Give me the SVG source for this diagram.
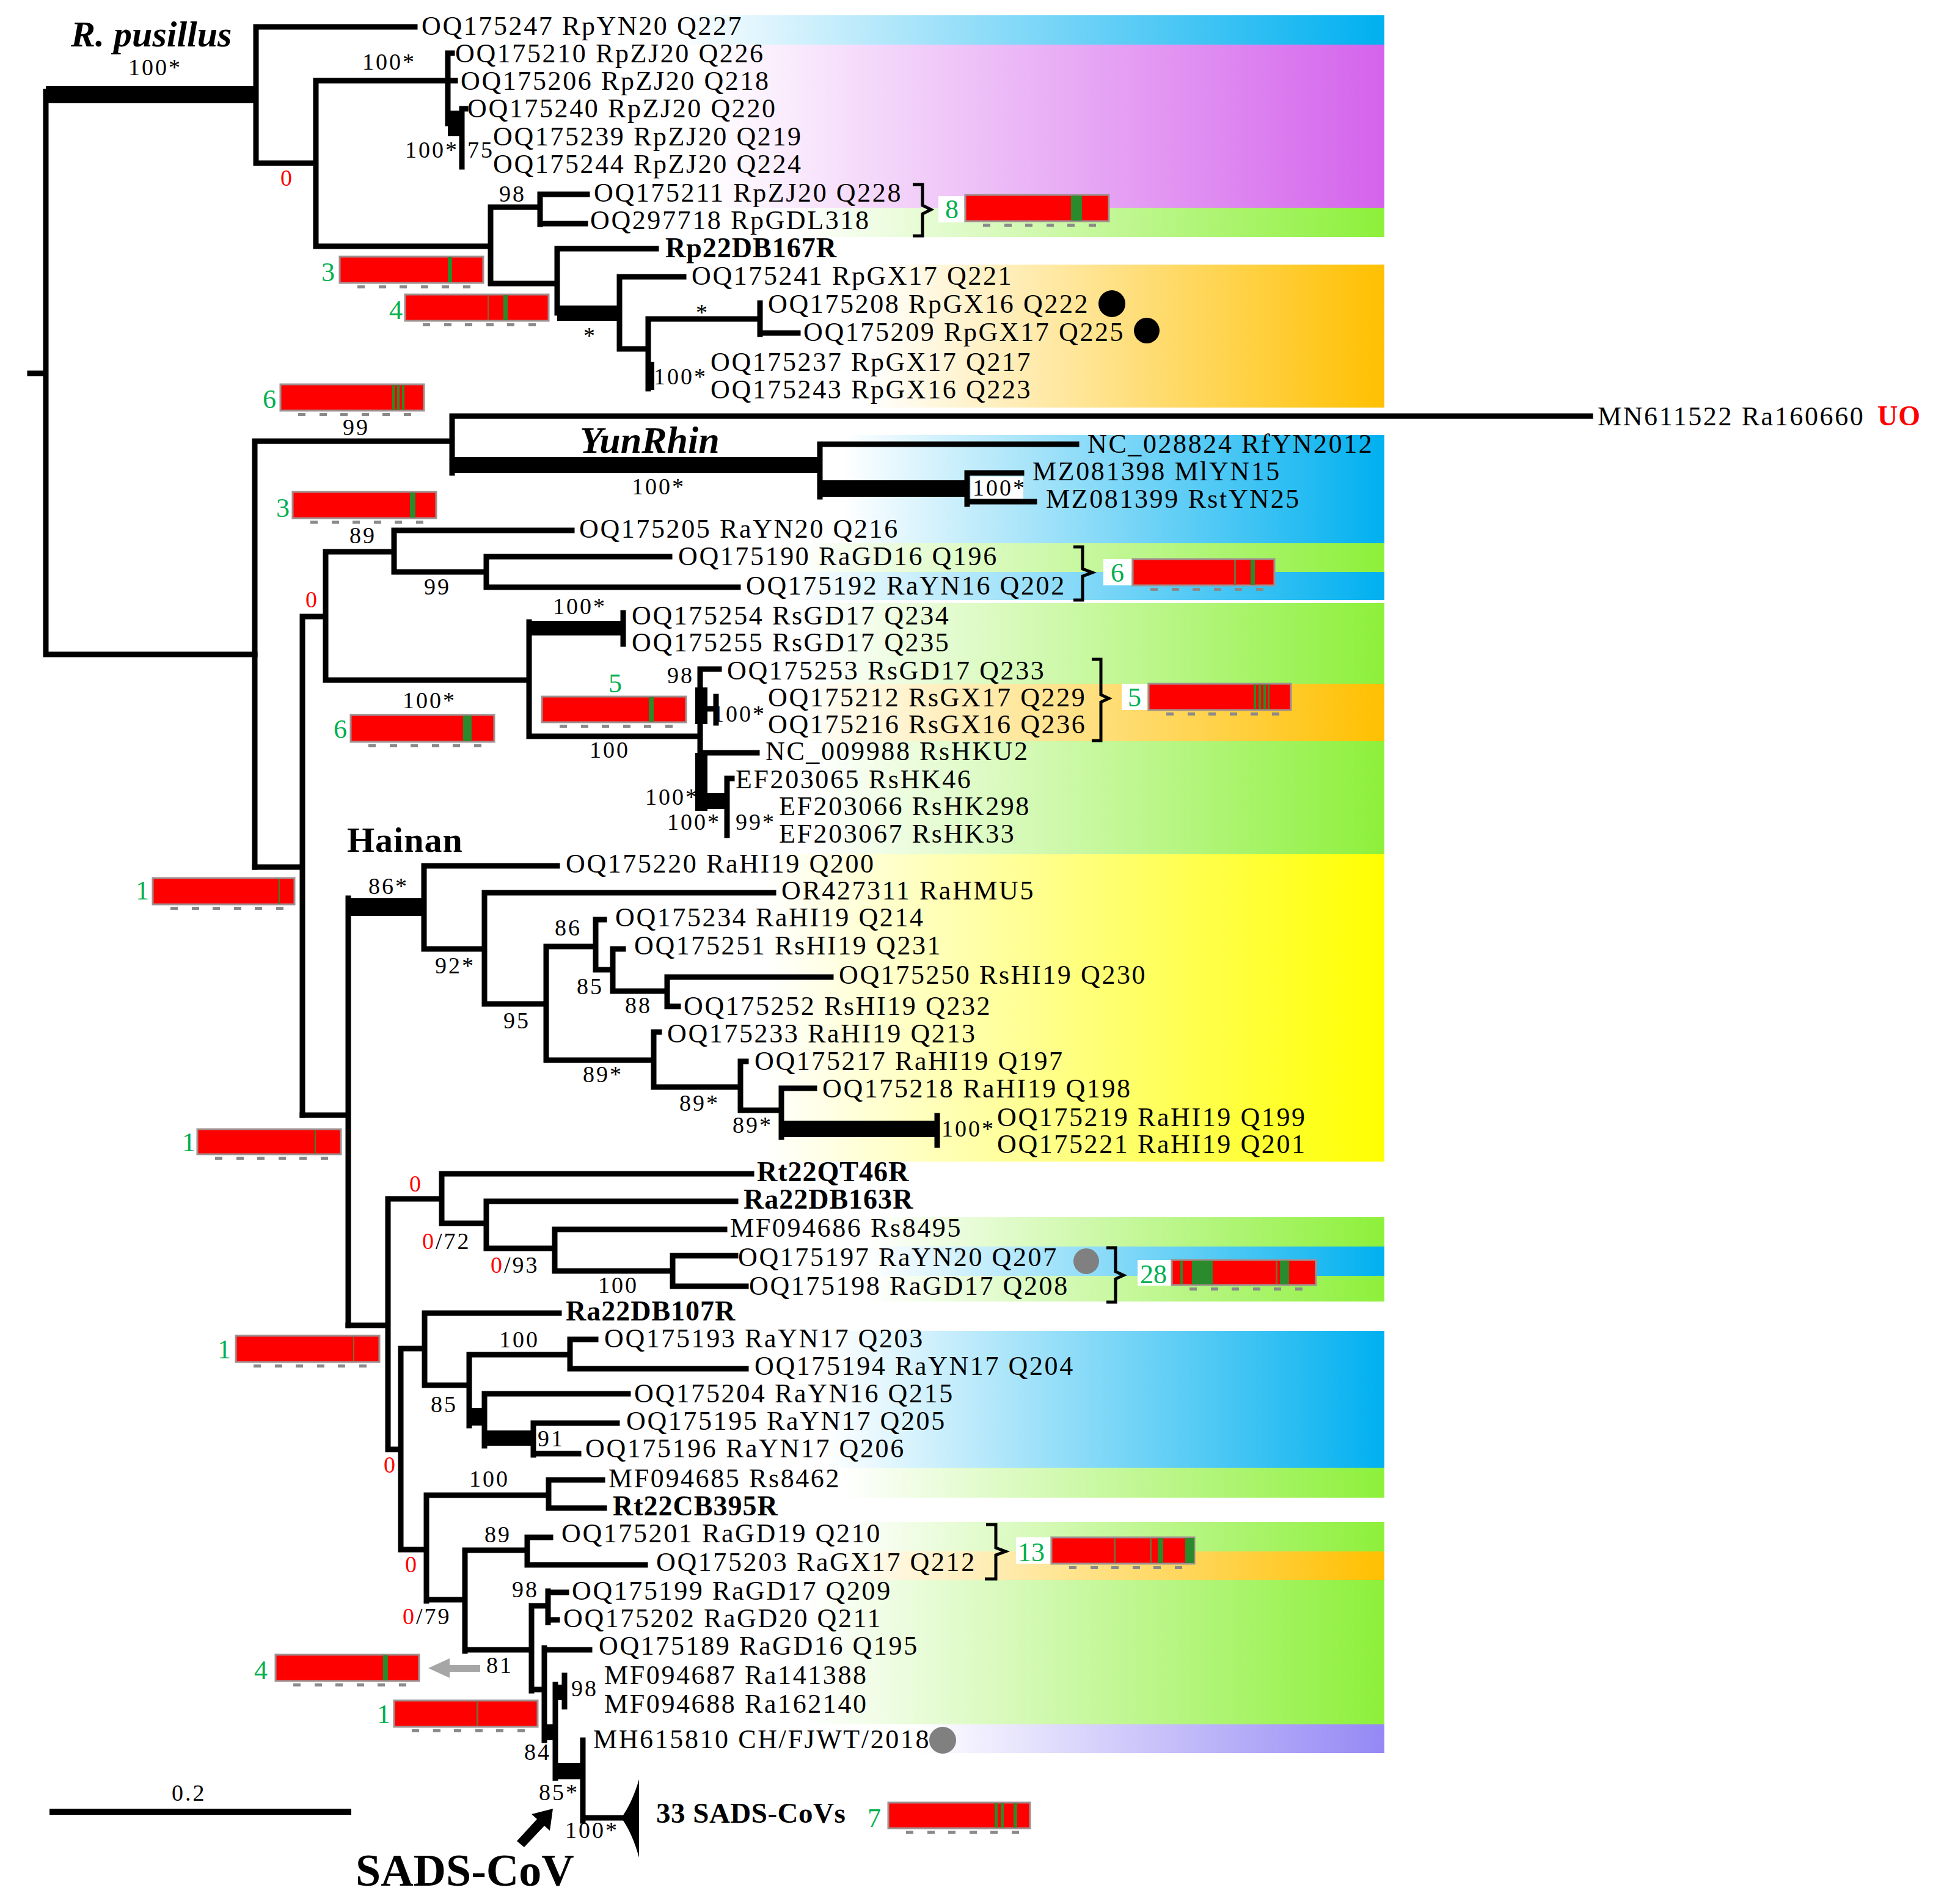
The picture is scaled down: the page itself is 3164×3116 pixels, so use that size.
<svg xmlns="http://www.w3.org/2000/svg" width="3164" height="3116" viewBox="0 0 3164 3116">
<defs>
<style>
text{font-family:"Liberation Serif","Times New Roman",serif;fill:#000}
.t{font-size:44px;letter-spacing:2.6px}
.b{font-size:46px;font-weight:bold;letter-spacing:1px}
.s{font-size:38px;letter-spacing:3px}
.r{fill:#f00}
.g{font-size:44px;fill:#00B050}
.ln{stroke:#000;stroke-width:9;fill:none;stroke-linecap:square}
.bar{fill:#f00;stroke:#a09090;stroke-width:3}
.gs{fill:#2B8A2B}
.sep{fill:#7a6a3a}
.br{fill:none;stroke:#000;stroke-width:5}
.tk{fill:#8a8a8a}
.wb{fill:#fff}
</style>
<linearGradient id="gB"><stop offset="0" stop-color="#fff"/><stop offset="1" stop-color="#00B0F0"/></linearGradient>
<linearGradient id="gM"><stop offset="0" stop-color="#fff"/><stop offset="1" stop-color="#D463EC"/></linearGradient>
<linearGradient id="gG"><stop offset="0" stop-color="#fff"/><stop offset="1" stop-color="#8DF03A"/></linearGradient>
<linearGradient id="gO"><stop offset="0" stop-color="#fff"/><stop offset="1" stop-color="#FFC000"/></linearGradient>
<linearGradient id="gY"><stop offset="0" stop-color="#fff"/><stop offset="1" stop-color="#FFFF00"/></linearGradient>
<linearGradient id="gP"><stop offset="0" stop-color="#fff"/><stop offset="1" stop-color="#9588F5"/></linearGradient>
<g id="tk"><rect class="tk" x="29" y="47" width="12" height="5"/><rect class="tk" x="64" y="47" width="12" height="5"/><rect class="tk" x="98" y="47" width="12" height="5"/><rect class="tk" x="133" y="47" width="12" height="5"/><rect class="tk" x="167" y="47" width="12" height="5"/><rect class="tk" x="202" y="47" width="12" height="5"/></g>
</defs>
<rect width="3164" height="3116" fill="#fff"/>
<g id="bands">
<rect x="1100" y="25" width="1166" height="48" fill="url(#gB)"/>
<rect x="1150" y="73" width="1116" height="267" fill="url(#gM)"/>
<rect x="1300" y="340" width="966" height="48" fill="url(#gG)"/>
<rect x="1420" y="433" width="846" height="234" fill="url(#gO)"/>
<rect x="1380" y="712" width="886" height="177" fill="url(#gB)"/>
<rect x="1300" y="889" width="966" height="47" fill="url(#gG)"/>
<rect x="1300" y="936" width="966" height="46" fill="url(#gB)"/>
<rect x="1330" y="987" width="936" height="132" fill="url(#gG)"/>
<rect x="1300" y="1119" width="966" height="94" fill="url(#gO)"/>
<rect x="1330" y="1213" width="936" height="185" fill="url(#gG)"/>
<rect x="1250" y="1398" width="1016" height="503" fill="url(#gY)"/>
<rect x="1420" y="1992" width="846" height="48" fill="url(#gG)"/>
<rect x="1420" y="2040" width="846" height="48" fill="url(#gB)"/>
<rect x="1420" y="2088" width="846" height="42" fill="url(#gG)"/>
<rect x="1350" y="2178" width="916" height="224" fill="url(#gB)"/>
<rect x="1380" y="2402" width="886" height="49" fill="url(#gG)"/>
<rect x="1380" y="2491" width="886" height="48" fill="url(#gG)"/>
<rect x="1350" y="2539" width="916" height="47" fill="url(#gO)"/>
<rect x="1320" y="2586" width="946" height="236" fill="url(#gG)"/>
<rect x="1500" y="2822" width="766" height="47" fill="url(#gP)"/>
</g>
<g id="connectors">
<path class="ln" d="M49 611H75M75 150V1071M75 1071H417M419 44V267M419 44H679M419 267H517M517 132V403M517 132H745M733 87V202M733 87H740M756 178V273M756 178H762M517 403H803M803 339V464M803 339H884M884 318V367M884 318H961M884 366H958M803 464H912M912 407V512M912 407H1074M1014 453V571M1014 453H1119M1014 571H1061M1061 522V636M1061 522H1244M1244 496V547M1244 545H1306"/>
<rect x="75" y="141" width="344" height="28"/>
<rect x="733" y="181" width="25" height="42"/>
<rect x="912" y="500" width="105" height="25"/>
<rect x="1057" y="592" width="14" height="46"/>
<path class="ln" d="M417 722V1419M417 722H740M740 681V774M740 681H2603M1342 727V813M1342 727H1762M1583 774V825M1583 774H1672M1583 821H1693"/>
<rect x="740" y="748" width="602" height="26"/>
<rect x="1342" y="786" width="241" height="27"/>
<path class="ln" d="M417 1419H495M495 1009V1825M495 1009H533M533 903V1113M533 903H645M645 868V936M645 868H936M645 936H796M796 911V961M796 911H1096M796 961H1208M533 1113H866M866 1018V1205M1020 1003V1054M866 1205H1146M1146 1095V1311M1146 1095H1177M1146 1160H1172M1172 1140V1183M1150 1232H1239M1190 1274V1367M1190 1274H1198"/>
<rect x="866" y="1016" width="154" height="24"/>
<rect x="1138" y="1125" width="20" height="60"/>
<rect x="1138" y="1232" width="20" height="95"/>
<rect x="1150" y="1298" width="42" height="26"/>
<path class="ln" d="M495 1825H570M570 1470V2169M694 1417V1553M694 1417H912M694 1553H793M793 1461V1643M793 1461H1266M793 1643H894M894 1549V1735M894 1549H975M975 1505V1587M975 1505H989M975 1587H1003M1003 1553V1622M1003 1553H1020M1003 1622H1092M1092 1599V1647M1092 1599H1360M1092 1647H1110M894 1735H1070M1070 1689V1779M1070 1689H1079M1070 1779H1212M1212 1737V1817M1212 1737H1221M1212 1817H1279M1279 1781V1861M1279 1781H1333M1534 1826V1874"/>
<rect x="568" y="1470" width="126" height="29"/>
<rect x="1279" y="1834" width="255" height="27"/>
<path class="ln" d="M570 2169H635M635 1962V2372M635 1962H723M723 1921V2002M723 1921H1230M723 2002H796M796 1966V2043M796 1966H1204M796 2043H908M908 2012V2080M908 2012H1186M908 2080H1101M1101 2055V2105M1101 2055H1204M1101 2105H1221M635 2372H656M656 2207V2536M656 2207H695M695 2149V2267M695 2149H915M695 2267H768M768 2217V2333M768 2217H933M933 2192V2240M933 2192H975M933 2240H1221M793 2281V2366M793 2281H1028M873 2329V2381M873 2329H1010M873 2379H947M656 2536H698M698 2447V2620M698 2447H898M898 2422V2468M898 2422H986M898 2468H989M698 2618H761M761 2537V2702M761 2537H863M863 2516V2561M863 2516H901M863 2561H1056M761 2700H870M870 2628V2767M870 2628H897M897 2604V2655M897 2606H927M897 2651H912M870 2765H891M891 2697V2848M891 2700H965M909 2757V2910M924 2742V2793M954 2848V2980M954 2975H1017"/>
<rect x="765" y="2304" width="28" height="29"/>
<rect x="793" y="2341" width="80" height="25"/>
<rect x="888" y="2822" width="24" height="26"/>
<rect x="905" y="2757" width="18" height="25"/>
<rect x="908" y="2885" width="49" height="27"/>
<path d="M1017 2975Q1035 2950 1046 2912V3040Q1035 3000 1017 2975Z"/>
<path class="br" d="M1494 302H1510V336L1524 343L1510 350V386H1494"/>
<path class="br" d="M1757 895H1772V931L1788 937L1772 943V982H1757"/>
<path class="br" d="M1787 1079H1802V1137L1815 1143L1802 1149V1212H1787"/>
<path class="br" d="M1811 2042H1826V2081L1839 2087L1826 2093V2131H1811"/>
<path class="br" d="M1614 2495H1630V2533L1646 2539L1630 2545V2584H1612"/>
<polygon points="701,2730 736,2714 736,2725 786,2725 786,2736 736,2736 736,2746" fill="#A6A6A6"/>
<polygon points="846,3013 879,2977 870,2969 905,2960 900,2996 891,2988 858,3023"/>
</g>
<g id="tips">
<g id="tip1"><text class="t" x="690" y="57">OQ175247 RpYN20 Q227</text></g>
<g id="tip2"><text class="t" x="745" y="102">OQ175210 RpZJ20 Q226</text></g>
<g id="tip3"><text class="t" x="754" y="147">OQ175206 RpZJ20 Q218</text></g>
<g id="tip4"><text class="t" x="765" y="192">OQ175240 RpZJ20 Q220</text></g>
<g id="tip5"><text class="t" x="807" y="238">OQ175239 RpZJ20 Q219</text></g>
<g id="tip6"><text class="t" x="807" y="283">OQ175244 RpZJ20 Q224</text></g>
<g id="tip7"><text class="t" x="972" y="330">OQ175211 RpZJ20 Q228</text></g>
<g id="tip8"><text class="t" x="966" y="375">OQ297718 RpGDL318</text></g>
<g id="tip9"><text class="b" x="1089" y="421">Rp22DB167R</text></g>
<g id="tip10"><text class="t" x="1132" y="466">OQ175241 RpGX17 Q221</text></g>
<g id="tip11"><text class="t" x="1257" y="512">OQ175208 RpGX16 Q222</text><circle cx="1820" cy="497" r="22"/></g>
<g id="tip12"><text class="t" x="1315" y="558">OQ175209 RpGX17 Q225</text><circle cx="1877" cy="541" r="21"/></g>
<g id="tip13"><text class="t" x="1163" y="607">OQ175237 RpGX17 Q217</text></g>
<g id="tip14"><text class="t" x="1163" y="652">OQ175243 RpGX16 Q223</text></g>
<g id="tip15"><text class="t" x="2615" y="696">MN611522 Ra160660</text><text class="b r" x="3073" y="696">UO</text></g>
<g id="tip16"><text class="t" x="1780" y="741">NC_028824 RfYN2012</text></g>
<g id="tip17"><text class="t" x="1690" y="786">MZ081398 MlYN15</text></g>
<g id="tip18"><text class="t" x="1712" y="831">MZ081399 RstYN25</text></g>
<g id="tip19"><text class="t" x="948" y="880">OQ175205 RaYN20 Q216</text></g>
<g id="tip20"><text class="t" x="1110" y="925">OQ175190 RaGD16 Q196</text></g>
<g id="tip21"><text class="t" x="1221" y="973">OQ175192 RaYN16 Q202</text></g>
<g id="tip22"><text class="t" x="1034" y="1022">OQ175254 RsGD17 Q234</text></g>
<g id="tip23"><text class="t" x="1034" y="1066">OQ175255 RsGD17 Q235</text></g>
<g id="tip24"><text class="t" x="1190" y="1112">OQ175253 RsGD17 Q233</text></g>
<g id="tip25"><text class="t" x="1257" y="1156">OQ175212 RsGX17 Q229</text></g>
<g id="tip26"><text class="t" x="1257" y="1200">OQ175216 RsGX16 Q236</text></g>
<g id="tip27"><text class="t" x="1253" y="1244">NC_009988 RsHKU2</text></g>
<g id="tip28"><text class="t" x="1204" y="1290">EF203065 RsHK46</text></g>
<g id="tip29"><text class="t" x="1275" y="1334">EF203066 RsHK298</text></g>
<g id="tip30"><text class="t" x="1275" y="1379">EF203067 RsHK33</text></g>
<g id="tip31"><text class="t" x="926" y="1428">OQ175220 RaHI19 Q200</text></g>
<g id="tip32"><text class="t" x="1279" y="1472">OR427311 RaHMU5</text></g>
<g id="tip33"><text class="t" x="1007" y="1516">OQ175234 RaHI19 Q214</text></g>
<g id="tip34"><text class="t" x="1038" y="1562">OQ175251 RsHI19 Q231</text></g>
<g id="tip35"><text class="t" x="1373" y="1610">OQ175250 RsHI19 Q230</text></g>
<g id="tip36"><text class="t" x="1119" y="1661">OQ175252 RsHI19 Q232</text></g>
<g id="tip37"><text class="t" x="1092" y="1706">OQ175233 RaHI19 Q213</text></g>
<g id="tip38"><text class="t" x="1235" y="1751">OQ175217 RaHI19 Q197</text></g>
<g id="tip39"><text class="t" x="1346" y="1796">OQ175218 RaHI19 Q198</text></g>
<g id="tip40"><text class="t" x="1632" y="1843">OQ175219 RaHI19 Q199</text></g>
<g id="tip41"><text class="t" x="1632" y="1887">OQ175221 RaHI19 Q201</text></g>
<g id="tip42"><text class="b" x="1239" y="1933">Rt22QT46R</text></g>
<g id="tip43"><text class="b" x="1217" y="1978">Ra22DB163R</text></g>
<g id="tip44"><text class="t" x="1195" y="2024">MF094686 Rs8495</text></g>
<g id="tip45"><text class="t" x="1208" y="2072">OQ175197 RaYN20 Q207</text><circle cx="1778" cy="2064" r="21" fill="#808080"/></g>
<g id="tip46"><text class="t" x="1226" y="2119">OQ175198 RaGD17 Q208</text></g>
<g id="tip47"><text class="b" x="926" y="2161">Ra22DB107R</text></g>
<g id="tip48"><text class="t" x="989" y="2205">OQ175193 RaYN17 Q203</text></g>
<g id="tip49"><text class="t" x="1235" y="2250">OQ175194 RaYN17 Q204</text></g>
<g id="tip50"><text class="t" x="1038" y="2295">OQ175204 RaYN16 Q215</text></g>
<g id="tip51"><text class="t" x="1025" y="2340">OQ175195 RaYN17 Q205</text></g>
<g id="tip52"><text class="t" x="958" y="2385">OQ175196 RaYN17 Q206</text></g>
<g id="tip53"><text class="t" x="996" y="2434">MF094685 Rs8462</text></g>
<g id="tip54"><text class="b" x="1003" y="2480">Rt22CB395R</text></g>
<g id="tip55"><text class="t" x="919" y="2524">OQ175201 RaGD19 Q210</text></g>
<g id="tip56"><text class="t" x="1074" y="2571">OQ175203 RaGX17 Q212</text></g>
<g id="tip57"><text class="t" x="936" y="2618">OQ175199 RaGD17 Q209</text></g>
<g id="tip58"><text class="t" x="922" y="2663">OQ175202 RaGD20 Q211</text></g>
<g id="tip59"><text class="t" x="980" y="2708">OQ175189 RaGD16 Q195</text></g>
<g id="tip60"><text class="t" x="989" y="2756">MF094687 Ra141388</text></g>
<g id="tip61"><text class="t" x="989" y="2803">MF094688 Ra162140</text></g>
<g id="tip62"><text class="t" x="971" y="2861">MH615810 CH/FJWT/2018</text><circle cx="1543" cy="2848" r="22" fill="#808080"/></g>
<g id="tip63"><text class="b" x="1074" y="2983" style="font-size:47px;letter-spacing:0.5px">33 SADS-CoVs</text></g>
</g>
<g id="clades">
<text x="116" y="76" style="font-size:60px;font-weight:bold;font-style:italic">R. pusillus</text>
<text x="949" y="741" style="font-size:62px;font-weight:bold;font-style:italic">YunRhin</text>
<text x="568" y="1394" style="font-size:58px;font-weight:bold;letter-spacing:1px">Hainan</text>
<text x="582" y="3086" style="font-size:74px;font-weight:bold">SADS-CoV</text>
</g>
<g id="support">
<text class="s" x="210" y="123">100*</text>
<text class="s r" x="459" y="304">0</text>
<text class="s" x="593" y="114">100*</text>
<text class="s" x="663" y="258">100*</text>
<text class="s" x="765" y="258">75</text>
<text class="s" x="817" y="330">98</text>
<text class="s" x="955" y="562">*</text>
<text class="s" x="1139" y="524">*</text>
<text class="s" x="1070" y="629">100*</text>
<text class="s" x="561" y="712">99</text>
<text class="s" x="1034" y="809">100*</text>
<rect class="wb" x="1589" y="780" width="86" height="36"/>
<text class="s" x="1592" y="811">100*</text>
<text class="s" x="572" y="889">89</text>
<text class="s r" x="500" y="994">0</text>
<text class="s" x="694" y="973">99</text>
<text class="s" x="905" y="1005">100*</text>
<text class="s" x="1092" y="1118">98</text>
<text class="s" x="1166" y="1181">100*</text>
<text class="s" x="965" y="1240">100</text>
<text class="s" x="659" y="1159">100*</text>
<text class="s" x="1056" y="1317">100*</text>
<text class="s" x="1092" y="1358">100*</text>
<text class="s" x="1204" y="1358">99*</text>
<text class="s" x="603" y="1463">86*</text>
<text class="s" x="712" y="1593">92*</text>
<text class="s" x="824" y="1683">95</text>
<text class="s" x="908" y="1531">86</text>
<text class="s" x="944" y="1627">85</text>
<text class="s" x="1023" y="1658">88</text>
<text class="s" x="954" y="1771">89*</text>
<text class="s" x="1112" y="1818">89*</text>
<text class="s" x="1199" y="1854">89*</text>
<text class="s" x="1541" y="1860">100*</text>
<text class="s r" x="670" y="1950">0</text>
<text class="s" x="691" y="2044"><tspan class="r">0</tspan>/72</text>
<text class="s" x="803" y="2083"><tspan class="r">0</tspan>/93</text>
<text class="s" x="979" y="2116">100</text>
<text class="s" x="817" y="2205">100</text>
<text class="s" x="705" y="2311">85</text>
<text class="s" x="880" y="2367">91</text>
<text class="s r" x="628" y="2410">0</text>
<text class="s" x="768" y="2433">100</text>
<text class="s r" x="663" y="2573">0</text>
<text class="s" x="793" y="2524">89</text>
<text class="s" x="659" y="2658"><tspan class="r">0</tspan>/79</text>
<text class="s" x="838" y="2614">98</text>
<text class="s" x="796" y="2738">81</text>
<text class="s" x="935" y="2776">98</text>
<text class="s" x="858" y="2880">84</text>
<text class="s" x="882" y="2946">85*</text>
<text class="s" x="925" y="3008">100*</text>
</g>
<g id="bars">
<g id="bar8"><rect class="wb" x="1536" y="321" width="42" height="43"/><text class="g" x="1547" y="357">8</text><rect class="bar" x="1580" y="319" width="235" height="43"/><rect class="gs" x="1753" y="320" width="18" height="41"/><use href="#tk" x="1580" y="319"/></g>
<g id="bar3a"><text class="g" x="526" y="460">3</text><rect class="bar" x="556" y="420" width="235" height="43"/><rect class="gs" x="733" y="421" width="7" height="41"/><use href="#tk" x="556" y="420"/></g>
<g id="bar4a"><text class="g" x="637" y="522">4</text><rect class="bar" x="663" y="482" width="235" height="43"/><rect class="sep" x="798" y="483" width="2" height="41"/><rect class="gs" x="824" y="483" width="7" height="41"/><use href="#tk" x="663" y="482"/></g>
<g id="bar6a"><text class="g" x="430" y="668">6</text><rect class="bar" x="459" y="629" width="235" height="43"/><rect class="gs" x="642" y="630" width="4" height="41"/><rect class="gs" x="650" y="630" width="4" height="41"/><rect class="gs" x="658" y="630" width="4" height="41"/><use href="#tk" x="459" y="629"/></g>
<g id="bar3b"><text class="g" x="452" y="846">3</text><rect class="bar" x="479" y="805" width="235" height="43"/><rect class="gs" x="671" y="806" width="9" height="41"/><use href="#tk" x="479" y="805"/></g>
<g id="bar6b"><rect class="wb" x="1806" y="915" width="46" height="43"/><text class="g" x="1818" y="952">6</text><rect class="bar" x="1854" y="915" width="232" height="43"/><rect class="sep" x="2020" y="916" width="3" height="41"/><rect class="gs" x="2047" y="916" width="7" height="41"/><use href="#tk" x="1854" y="915"/></g>
<g id="bar5a"><text class="g" x="996" y="1133">5</text><rect class="bar" x="887" y="1140" width="236" height="42"/><rect class="gs" x="1062" y="1141" width="8" height="40"/><use href="#tk" x="887" y="1139"/></g>
<g id="bar5b"><rect class="wb" x="1836" y="1119" width="42" height="43"/><text class="g" x="1846" y="1156">5</text><rect class="bar" x="1880" y="1119" width="233" height="43"/><rect class="gs" x="2052" y="1120" width="4" height="41"/><rect class="gs" x="2060" y="1120" width="4" height="41"/><rect class="gs" x="2068" y="1120" width="4" height="41"/><rect class="gs" x="2075" y="1120" width="3" height="41"/><use href="#tk" x="1880" y="1119"/></g>
<g id="bar6c"><text class="g" x="546" y="1208">6</text><rect class="bar" x="574" y="1170" width="235" height="44"/><rect class="gs" x="758" y="1171" width="14" height="42"/><use href="#tk" x="574" y="1171"/></g>
<g id="bar1a"><text class="g" x="222" y="1472">1</text><rect class="bar" x="250" y="1437" width="232" height="43"/><rect class="gs" x="456" y="1438" width="2" height="41"/><use href="#tk" x="250" y="1437"/></g>
<g id="bar1b"><text class="g" x="298" y="1884">1</text><rect class="bar" x="323" y="1848" width="235" height="41"/><rect class="gs" x="515" y="1849" width="2" height="39"/><use href="#tk" x="323" y="1846"/></g>
<g id="bar1c"><text class="g" x="356" y="2223">1</text><rect class="bar" x="386" y="2186" width="235" height="43"/><rect class="sep" x="578" y="2187" width="2" height="41"/><use href="#tk" x="386" y="2186"/></g>
<g id="bar28"><rect class="wb" x="1862" y="2062" width="56" height="42"/><text class="g" x="1866" y="2100">28</text><rect class="bar" x="1918" y="2062" width="236" height="41"/><rect class="gs" x="1932" y="2063" width="4" height="39"/><rect class="gs" x="1951" y="2063" width="34" height="39"/><rect class="sep" x="2088" y="2063" width="3" height="39"/><rect class="gs" x="2095" y="2063" width="15" height="39"/><use href="#tk" x="1918" y="2060"/></g>
<g id="bar13"><rect class="wb" x="1663" y="2516" width="56" height="43"/><text class="g" x="1666" y="2555">13</text><rect class="bar" x="1721" y="2516" width="234" height="43"/><rect class="sep" x="1823" y="2517" width="3" height="41"/><rect class="sep" x="1882" y="2517" width="3" height="41"/><rect class="gs" x="1895" y="2517" width="9" height="41"/><rect class="gs" x="1940" y="2517" width="15" height="41"/><use href="#tk" x="1721" y="2516"/></g>
<g id="bar4b"><text class="g" x="416" y="2748">4</text><rect class="bar" x="451" y="2708" width="235" height="43"/><rect class="gs" x="627" y="2709" width="8" height="41"/><use href="#tk" x="451" y="2708"/></g>
<g id="bar1d"><text class="g" x="617" y="2820">1</text><rect class="bar" x="645" y="2783" width="235" height="43"/><rect class="sep" x="780" y="2784" width="3" height="41"/><use href="#tk" x="645" y="2783"/></g>
<g id="bar7"><text class="g" x="1420" y="2990">7</text><rect class="bar" x="1454" y="2950" width="232" height="42"/><rect class="gs" x="1628" y="2951" width="5" height="40"/><rect class="gs" x="1638" y="2951" width="5" height="40"/><rect class="gs" x="1659" y="2951" width="6" height="40"/><use href="#tk" x="1454" y="2949"/></g>
</g>
<g id="scale">
<rect x="81" y="2960" width="494" height="10"/>
<text class="s" x="281" y="2947">0.2</text>
</g>
</svg>
